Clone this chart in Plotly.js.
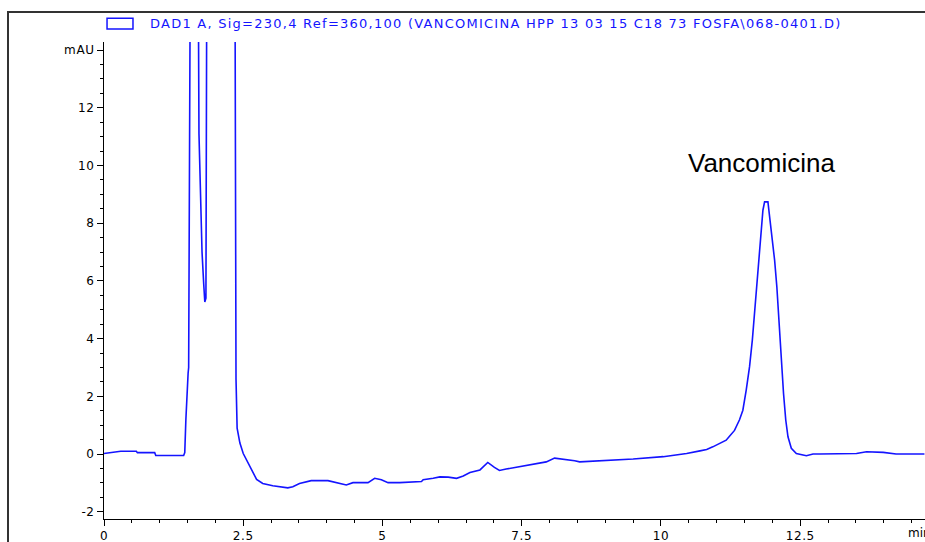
<!DOCTYPE html>
<html>
<head>
<meta charset="utf-8">
<script src="https://cdn.plot.ly/plotly-3.0.1.min.js"></script>
<style>
  html, body { margin: 0; padding: 0; background: #fff; overflow: hidden; }
  #wrap { position: relative; width: 925px; height: 542px; }
  #chart { position: absolute; left: 0; top: 0; width: 925px; height: 542px; }
  #frame { position: absolute; left: 7px; top: 11px; width: 930px; height: 540px;
           border-left: 2px solid #333; border-top: 2px solid #333; pointer-events: none; }
  #chart g.annotation[data-index="0"] text { letter-spacing: 1.25px; }
  #chart .xtick text, #chart .ytick text { letter-spacing: 0.6px; }
</style>
</head>
<body>
<div id="wrap">
  <div id="chart"></div>
  <div id="frame"></div>
</div>
<script>
// Retention time (min)
const timeMin = [
  0.00, 0.20, 0.30, 0.58, 0.60, 0.91, 0.93, 1.43, 1.45, 1.47, 1.49, 1.51, 1.52, 1.53, 1.56,
  1.62, 1.68, 1.705, 1.74, 1.76, 1.79, 1.81, 1.83, 1.85, 1.95, 2.10, 2.25, 2.35, 2.37, 2.39,
  2.44, 2.50, 2.56, 2.62, 2.68, 2.74, 2.85, 3.03, 3.30, 3.39, 3.51, 3.72, 4.02, 4.17, 4.35,
  4.47, 4.74, 4.86, 4.98, 5.10, 5.31, 5.70, 5.73, 5.91, 6.03, 6.18, 6.33, 6.45, 6.57, 6.75,
  6.89, 7.01, 7.10, 7.22, 7.46, 7.70, 7.94, 8.09, 8.30, 8.45, 8.54, 8.96, 9.50, 10.04, 10.46,
  10.70, 10.82, 10.93, 11.05, 11.17, 11.23, 11.32, 11.41, 11.47, 11.53, 11.59, 11.64, 11.68, 11.72,
  11.76, 11.80, 11.83, 11.86, 11.92, 11.95, 12.00, 12.04, 12.08, 12.13, 12.17, 12.20, 12.24, 12.28,
  12.34, 12.43, 12.61, 12.73, 12.85, 13.51, 13.69, 13.99, 14.22, 14.73
];
// Absorbance (mAU)
const signalMAU = [
  0.02, 0.06, 0.10, 0.10, 0.05, 0.05, -0.05, -0.05, 0.05, 1.2, 2.2, 2.8, 3.0, 9.6, 22,
  30, 22, 11.1, 8.5, 7.0, 5.9, 5.27, 5.4, 20, 40, 35, 28, 18, 2.6, 0.9,
  0.38, 0.02, -0.22, -0.40, -0.65, -0.88, -1.02, -1.10, -1.17, -1.13, -1.02, -0.92, -0.92, -0.98, -1.07,
  -0.99, -0.99, -0.84, -0.89, -0.99, -0.99, -0.95, -0.89, -0.84, -0.79, -0.80, -0.84, -0.76, -0.64, -0.55,
  -0.29, -0.46, -0.57, -0.52, -0.43, -0.35, -0.27, -0.14, -0.18, -0.23, -0.27, -0.23, -0.17, -0.09, 0.02,
  0.11, 0.16, 0.25, 0.37, 0.48, 0.62, 0.82, 1.19, 1.52, 2.22, 3.03, 3.95, 4.88, 5.92,
  6.72, 7.53, 8.45, 8.74, 8.74, 8.23, 7.42, 6.72, 5.8, 4.18, 3.03, 2.1, 1.18, 0.6,
  0.2, 0.02, -0.06, 0.0, 0.0, 0.02, 0.08, 0.06, 0.0, 0.0
];
const yTickVals = [-2, 0, 2, 4, 6, 8, 10, 12, 14];
const yTickText = ['-2', '0', '2', '4', '6', '8', '10', '12', 'mAU'];
const xTickVals = [0, 2.5, 5, 7.5, 10, 12.5];
const xTickText = ['0', '2.5', '5', '7.5', '10', '12.5'];
const seriesName = 'DAD1 A, Sig=230,4 Ref=360,100 (VANCOMICINA HPP 13 03 15 C18 73 FOSFA\\068-0401.D)';
const peakLabel = 'Vancomicina';
const peakLabelPos = [11.8, 10.1];
const xUnit = 'min';

const blue = '#1414ff';
const tickFont = { family: 'DejaVu Sans, sans-serif', size: 12, color: '#000' };

const trace = {
  x: timeMin, y: signalMAU, type: 'scatter', mode: 'lines', name: seriesName,
  line: { color: blue, width: 1.6 }, hoverinfo: 'skip'
};

const layout = {
  width: 925, height: 542,
  margin: { l: 104, r: 0, t: 42, b: 23, pad: 0 },
  paper_bgcolor: '#fff', plot_bgcolor: '#fff',
  showlegend: false,
  font: tickFont,
  xaxis: {
    range: [0, 14.74], showline: true, linecolor: '#000', linewidth: 1,
    showgrid: false, zeroline: false,
    tickmode: 'array', tickvals: xTickVals, ticktext: xTickText,
    ticks: 'outside', ticklen: 6, tickcolor: '#000', tickwidth: 1, tickfont: tickFont,
    minor: { tickmode: 'linear', tick0: 0, dtick: 0.5, ticks: 'outside', ticklen: 3, tickcolor: '#000', showgrid: false }
  },
  yaxis: {
    range: [-2.25, 14.28], showline: true, linecolor: '#000', linewidth: 1,
    showgrid: false, zeroline: false,
    tickmode: 'array', tickvals: yTickVals, ticktext: yTickText,
    ticks: 'outside', ticklen: 6, tickcolor: '#000', tickwidth: 1, tickfont: tickFont,
    minor: { tickmode: 'linear', tick0: 0, dtick: 0.5, ticks: 'outside', ticklen: 3, tickcolor: '#000', showgrid: false }
  },
  shapes: [
    { type: 'rect', xref: 'paper', yref: 'paper', x0: 0.0037, x1: 0.0353, y0: 1.027, y1: 1.050,
      line: { color: blue, width: 1.5 }, fillcolor: 'rgba(0,0,0,0)' }
  ],
  annotations: [
    { xref: 'paper', yref: 'paper', x: 0.0585, y: 1.038, xanchor: 'left', yanchor: 'middle', xshift: 46,
      text: seriesName, showarrow: false, font: { family: 'DejaVu Sans, sans-serif', size: 13, color: blue } },
    { xref: 'x', yref: 'y', x: peakLabelPos[0], y: peakLabelPos[1], xanchor: 'center', yanchor: 'middle',
      text: peakLabel, showarrow: false, font: { family: 'Liberation Sans, Arial, sans-serif', size: 26, color: '#000' } },
    { xref: 'paper', yref: 'paper', x: 0.977, y: -0.029, xanchor: 'left', yanchor: 'middle',
      text: xUnit, showarrow: false, font: tickFont }
  ]
};

Plotly.newPlot('chart', [trace], layout, { staticPlot: true, displayModeBar: false });
</script>
</body>
</html>
